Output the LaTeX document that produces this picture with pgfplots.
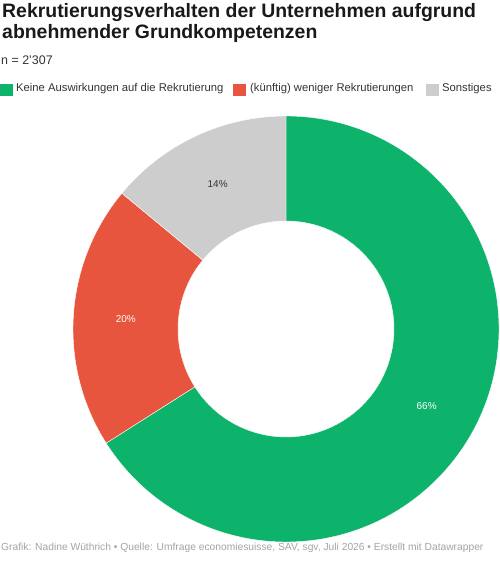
\documentclass[border=0pt]{standalone}
\usepackage{pgfplots}
\pgfplotsset{compat=1.18}
\usepackage{pgfplotstable}
\usepackage{fontspec}
\setmainfont{Liberation Sans}

\definecolor{cgreen}{HTML}{0DB26B}
\definecolor{cred}{HTML}{E8553E}
\definecolor{cgray}{HTML}{CDCDCD}
\definecolor{ctext}{HTML}{333333}
\definecolor{cfoot}{HTML}{A3A3A3}

% share of answers in percent
\pgfplotstableread{
label value
keine 66
weniger 20
sonstiges 14
}\donutdata

\begin{document}
\begin{tikzpicture}
% angles of the slices, clockwise from the top
\pgfplotstablegetelem{0}{value}\of\donutdata \pgfmathtruncatemacro\vA{\pgfplotsretval}
\pgfplotstablegetelem{1}{value}\of\donutdata \pgfmathtruncatemacro\vB{\pgfplotsretval}
\pgfplotstablegetelem{2}{value}\of\donutdata \pgfmathtruncatemacro\vC{\pgfplotsretval}
\pgfmathsetmacro\aA{90}
\pgfmathsetmacro\aB{\aA-3.6*\vA}
\pgfmathsetmacro\aC{\aB-3.6*\vB}
\pgfmathsetmacro\aD{\aC-3.6*\vC}
\pgfmathsetmacro\mA{(\aA+\aB)/2}
\pgfmathsetmacro\mB{(\aB+\aC)/2}
\pgfmathsetmacro\mC{(\aC+\aD)/2}
\def\Ro{213bp}\def\Ri{108bp}\def\Rm{160.5bp}
\begin{axis}[
    scale only axis,
    width=500bp, height=574bp,
    xmin=0, xmax=500, ymin=0, ymax=574,
    hide axis, clip=false,
]
\addplot[draw=none] coordinates {(0,0) (500,574)};
% slices
\fill[cgreen, draw=white, line width=0.4pt] ([shift={(\aA:\Ro)}]axis cs:286,245) arc[start angle=\aA, end angle=\aB, radius=\Ro]
   -- ([shift={(\aB:\Ri)}]axis cs:286,245) arc[start angle=\aB, end angle=\aA, radius=\Ri] -- cycle;
\fill[cred, draw=white, line width=0.4pt] ([shift={(\aB:\Ro)}]axis cs:286,245) arc[start angle=\aB, end angle=\aC, radius=\Ro]
   -- ([shift={(\aC:\Ri)}]axis cs:286,245) arc[start angle=\aC, end angle=\aB, radius=\Ri] -- cycle;
\fill[cgray, draw=white, line width=0.4pt] ([shift={(\aC:\Ro)}]axis cs:286,245) arc[start angle=\aC, end angle=\aD, radius=\Ro]
   -- ([shift={(\aD:\Ri)}]axis cs:286,245) arc[start angle=\aD, end angle=\aC, radius=\Ri] -- cycle;
% value labels
\node[white, font=\fontsize{10}{11}\selectfont] at ([shift={(\mA:\Rm)}]axis cs:286,245) {\vA\%};
\node[white, font=\fontsize{10}{11}\selectfont] at ([shift={(\mB:\Rm)}]axis cs:286,245) {\vB\%};
\node[ctext, font=\fontsize{10}{11}\selectfont] at ([shift={(\mC:\Rm)}]axis cs:286,245) {\vC\%};
% title and notes
\node[anchor=base west, inner sep=0pt, font=\bfseries\fontsize{19.5}{22}\selectfont, text=black!90] at (axis cs:2,556) {Rekrutierungsverhalten der Unternehmen aufgrund};
\node[anchor=base west, inner sep=0pt, font=\bfseries\fontsize{19.5}{22}\selectfont, text=black!90] at (axis cs:2,535) {abnehmender Grundkompetenzen};
\node[anchor=base west, inner sep=0pt, font=\fontsize{12.5}{14}\selectfont, text=ctext] at (axis cs:1,509) {n = 2’307};
% legend
\fill[cgreen] (axis cs:0,478) rectangle (axis cs:13,490);
\node[anchor=base west, inner sep=0pt, font=\fontsize{11.3}{13}\selectfont, text=ctext] at (axis cs:16,482) {Keine Auswirkungen auf die Rekrutierung};
\fill[cred] (axis cs:233,478) rectangle (axis cs:246,490);
\node[anchor=base west, inner sep=0pt, font=\fontsize{11.3}{13}\selectfont, text=ctext] at (axis cs:250,482) {(künftig) weniger Rekrutierungen};
\fill[cgray] (axis cs:426,478) rectangle (axis cs:439,490);
\node[anchor=base west, inner sep=0pt, font=\fontsize{11.3}{13}\selectfont, text=ctext] at (axis cs:442,482) {Sonstiges};
% footer
\node[anchor=base west, inner sep=0pt, font=\fontsize{10.3}{12}\selectfont, text=cfoot] at (axis cs:1,24) {Grafik: Nadine Wüthrich • Quelle: Umfrage economiesuisse, SAV, sgv, Juli 2026 • Erstellt mit Datawrapper};
\end{axis}
\pgfresetboundingbox
\path (0,0) rectangle (500bp,574bp);
\end{tikzpicture}
\end{document}
